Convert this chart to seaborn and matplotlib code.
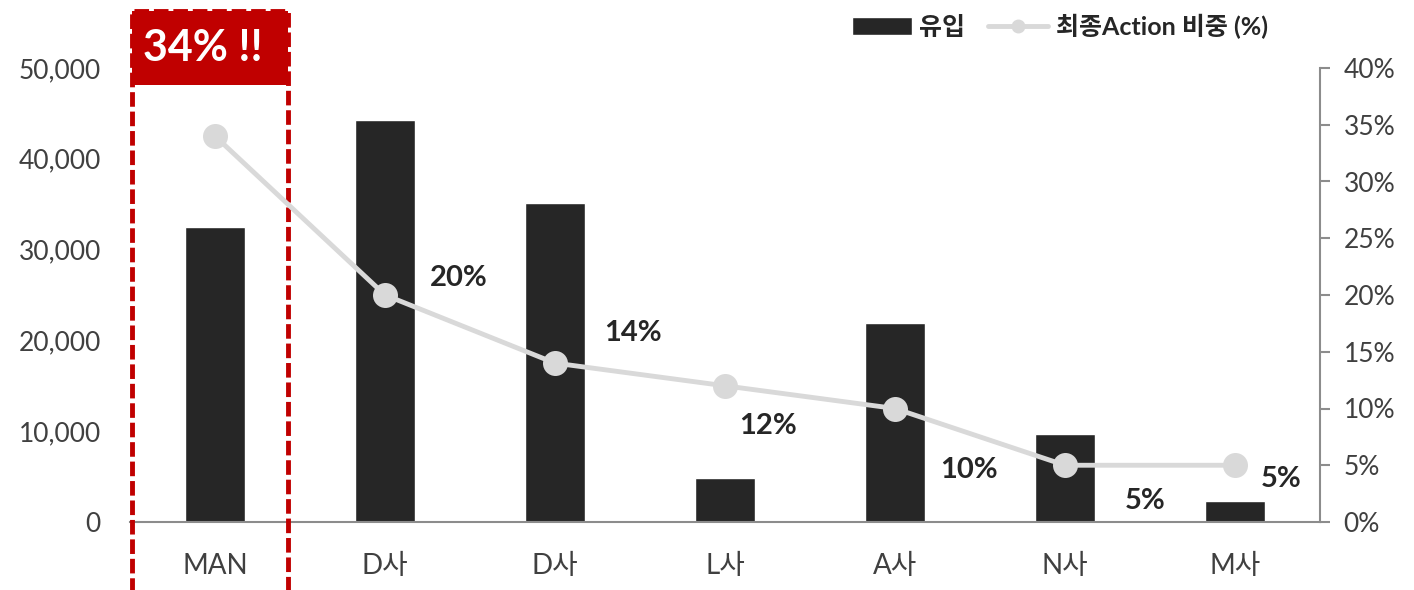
import numpy as np
import pandas as pd
import seaborn as sns
import matplotlib.pyplot as plt
from matplotlib.patches import Rectangle, Patch
from matplotlib.lines import Line2D
import matplotlib.transforms as mtransforms

# 데이터
categories = ['MAN', 'D사', 'D사', 'L사', 'A사', 'N사', 'M사']
inflow = [32500, 44300, 35100, 4850, 21900, 9700, 2300]
action_ratio = [34, 20, 14, 12, 10, 5, 5]
label_offsets = [(0, 0), (53, 12), (56, 22), (31, -29), (53, -44), (58, -26), (33, -10)]

sns.set_style('white')
plt.rcParams['font.family'] = ['Lato', 'Noto Sans CJK KR', 'DejaVu Sans']

pos = list(range(len(categories)))
df = pd.DataFrame({'pos': pos, 'inflow': inflow, 'ratio': action_ratio})

fig = plt.figure(figsize=(14.14, 5.9), dpi=100)
ax = fig.add_axes([130 / 1414, 1 - 522 / 590, (1320 - 130) / 1414, 454 / 590])

sns.barplot(data=df, x='pos', y='inflow', color='#262626', width=0.35,
            saturation=1, ax=ax, zorder=2)
ax.set_xlim(-0.5, 6.5)
ax.set_ylim(0, 50000)
ax.set_yticks(np.arange(0, 50001, 10000))
ax.set_yticklabels([f'{v:,}' for v in range(0, 50001, 10000)])
ax.set_xticks(pos)
ax.set_xticklabels(categories)
ax.set_xlabel('')
ax.set_ylabel('')
ax.tick_params(axis='y', length=0, labelsize=19, labelcolor='#404040', pad=21)
ax.tick_params(axis='x', length=0, labelsize=20, labelcolor='#404040', pad=22)
for s in ['left', 'top', 'right']:
    ax.spines[s].set_visible(False)
ax.spines['bottom'].set_color('#8c8c8c')
ax.spines['bottom'].set_linewidth(1.5)

ax2 = ax.twinx()
sns.lineplot(data=df, x='pos', y='ratio', ax=ax2, color='#d9d9d9', linewidth=3.5,
             marker='o', markersize=18, markeredgewidth=0, zorder=3)
ax2.set_ylim(0, 40)
ax2.set_yticks(np.arange(0, 41, 5))
ax2.set_yticklabels([f'{v}%' for v in range(0, 41, 5)])
ax2.set_ylabel('')
ax2.tick_params(axis='y', direction='out', length=7, width=1.5, color='#8c8c8c',
                labelsize=19, labelcolor='#404040', pad=10)
for s in ['left', 'top', 'bottom']:
    ax2.spines[s].set_visible(False)
ax2.spines['right'].set_color('#8c8c8c')
ax2.spines['right'].set_linewidth(1.5)

# 데이터 레이블 (첫 번째는 박스 안에 표시)
for i in range(1, len(pos)):
    ax2.annotate(f'{action_ratio[i]}%', (pos[i], action_ratio[i]),
                 xytext=label_offsets[i], textcoords='offset points',
                 ha='center', va='center', fontsize=21, fontweight='bold',
                 color='#262626')

# 강조 박스
trans = mtransforms.blended_transform_factory(ax.transData, ax.transAxes)
red = '#c00000'
ax.add_patch(Rectangle((-0.49, 0.963), 0.92, 1.125 - 0.963, transform=trans,
                       facecolor=red, edgecolor='none', clip_on=False, zorder=5))
ax.add_patch(Rectangle((-0.49, -0.2), 0.92, 1.125 + 0.2, transform=trans,
                       facecolor='none', edgecolor=red, linewidth=3.5,
                       linestyle=(0, (3, 1)), clip_on=False, zorder=5))
ax.text(-0.07, 1.044, '34% !!', transform=trans, ha='center', va='center',
        fontsize=31, fontweight='bold', color='white', zorder=6)

handles = [Patch(facecolor='#262626', label='유입'),
           Line2D([0], [0], color='#d9d9d9', linewidth=3.5, marker='o',
                  markersize=9, label='최종Action 비중 (%)')]
fig.legend(handles=handles, loc='upper right', bbox_to_anchor=(1290 / 1414, 1.015),
           ncol=2, frameon=False, prop={'size': 18, 'weight': 'bold'},
           handlelength=2.4, columnspacing=0.9, handletextpad=0.3)

fig.savefig('out.png', dpi=100)
